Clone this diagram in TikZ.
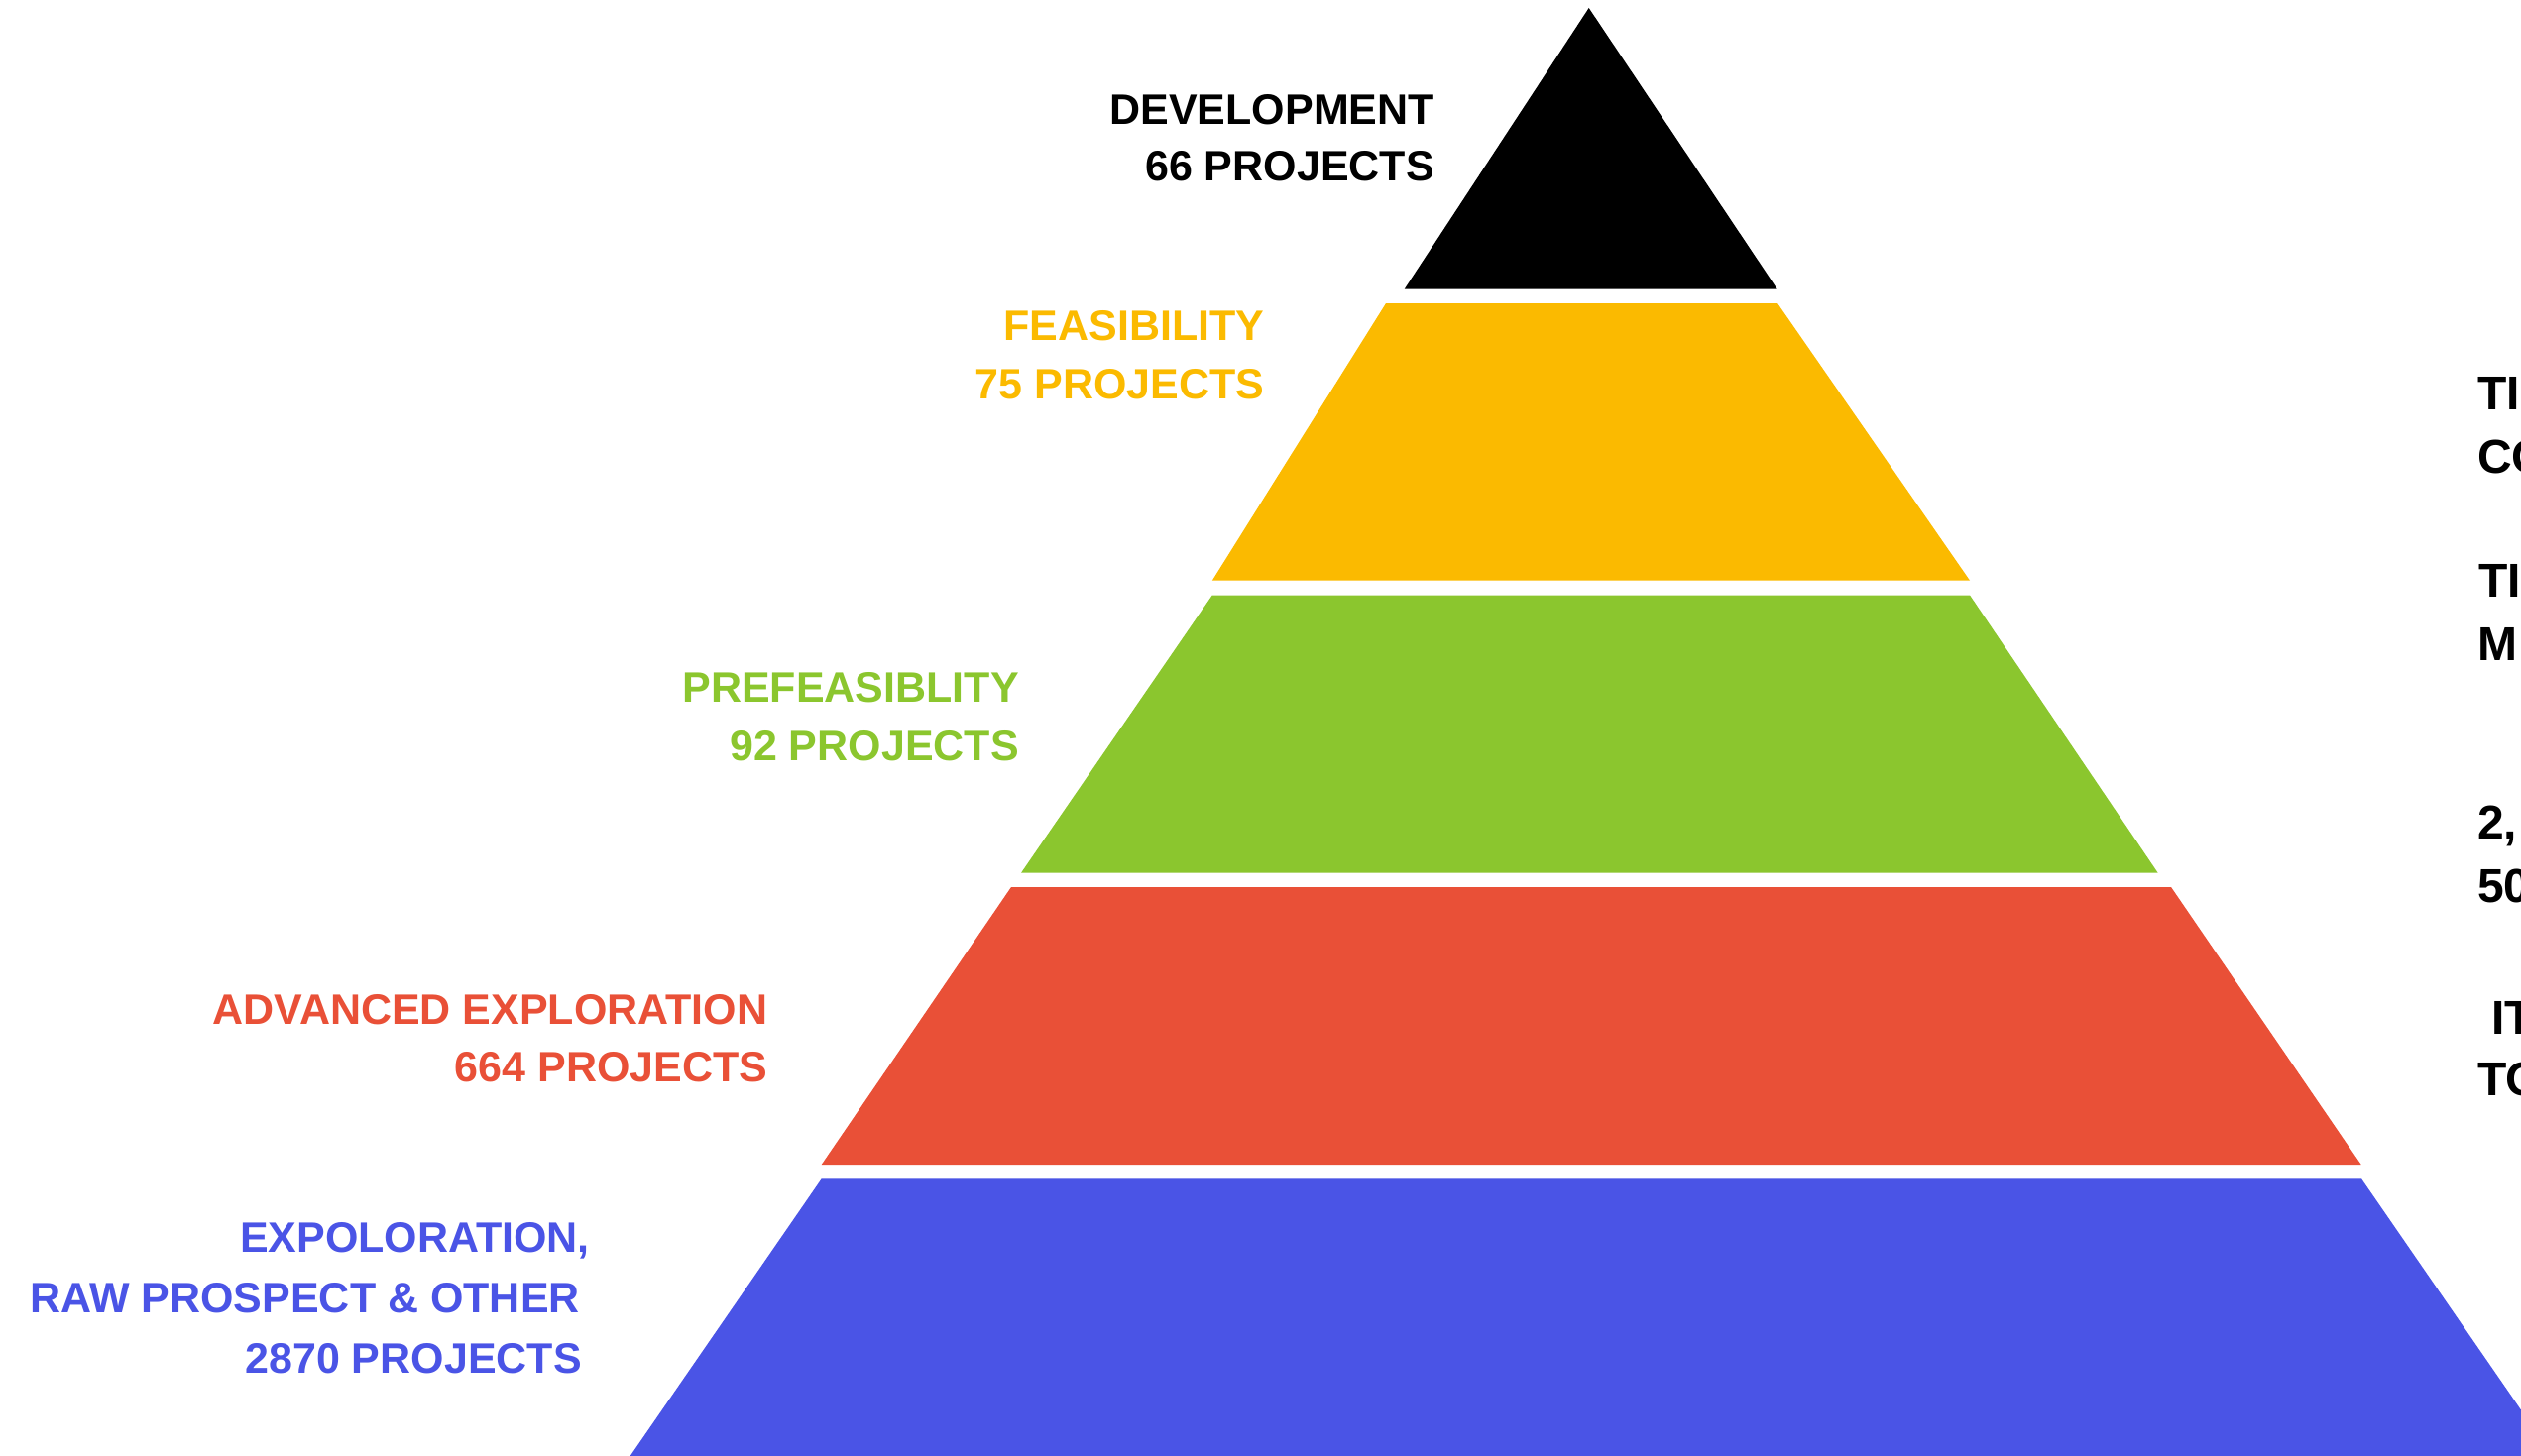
\documentclass[tikz,border=0pt]{standalone}
\usepackage{fontspec}
\setmainfont{Liberation Sans}
\definecolor{tblack}{HTML}{000000}
\definecolor{tyellow}{HTML}{FBBA00}
\definecolor{tgreen}{HTML}{8BC62E}
\definecolor{tred}{HTML}{E95037}
\definecolor{tblue}{HTML}{4A54E6}
\begin{document}
\begin{tikzpicture}[x=1pt,y=-1pt,
  tier/.style={fill=#1, draw=none},
  lbl/.style={text=#1, align=right, inner sep=0pt, anchor=north east},
  side/.style={font=\fontsize{48}{58}\selectfont\bfseries, inner sep=0pt, anchor=base west}]
\useasboundingbox (0,0) rectangle (2543,1469);
\clip (0,0) rectangle (2543,1469);
\fill[white] (0,0) rectangle (2543,1469);
% tiers
\fill[tier=tblack]  (1602.7,8) -- (1792.7,291.7) -- (1416.7,291.7) -- cycle;
\fill[tier=tyellow] (1398,306) -- (1793,306) -- (1987,585.7) -- (1222.8,585.7) -- cycle;
\fill[tier=tgreen]  (1222.8,600.5) -- (1987,600.5) -- (2176.7,880.7) -- (1030,880.7) -- cycle;
\fill[tier=tred]    (1020,895) -- (2190,895) -- (2381.7,1175) -- (828.7,1175) -- cycle;
\fill[tier=tblue]   (828.7,1189.3) -- (2382,1189.3) -- (2575,1469) -- (635.7,1469) -- cycle;
% labels
\node[lbl=tblack, font=\fontsize{43}{57}\selectfont\bfseries] (dev) at (1447,95) {DEVELOPMENT\\66 PROJECTS};
\node[lbl=tyellow, font=\fontsize{43}{59}\selectfont\bfseries] (fea) at (1275.5,313.5) {FEASIBILITY\\75 PROJECTS};
\node[lbl=tgreen, font=\fontsize{43}{59}\selectfont\bfseries] (pre) at (1028,678.5) {PREFEASIBLITY\\92 PROJECTS};
\node[lbl=tred, font=\fontsize{43}{58.5}\selectfont\bfseries] (adv) at (774.5,1003) {ADVANCED EXPLORATION\\664 PROJECTS};
\node[lbl=tblue, font=\fontsize{43}{61}\selectfont\bfseries] (exp) at (595,1233.5) {EXPOLORATION,\\RAW PROSPECT \& OTHER\kern10pt\\2870 PROJECTS\kern8pt};
% right-side text (cut off by the picture edge)
\node[side] (r1) at (2499,413.3) {TI};
\node[side] (r2) at (2499,477.5) {CO};
\node[side] (r3) at (2500,602.7) {TI};
\node[side] (r4) at (2499,666.7) {M};
\node[side] (r5) at (2499,846.7) {2,};
\node[side] (r6) at (2499,910) {50};
\node[side] (r7) at (2513,1043.3) {IT};
\node[side] (r8) at (2499,1105) {TO};
\end{tikzpicture}
\end{document}
